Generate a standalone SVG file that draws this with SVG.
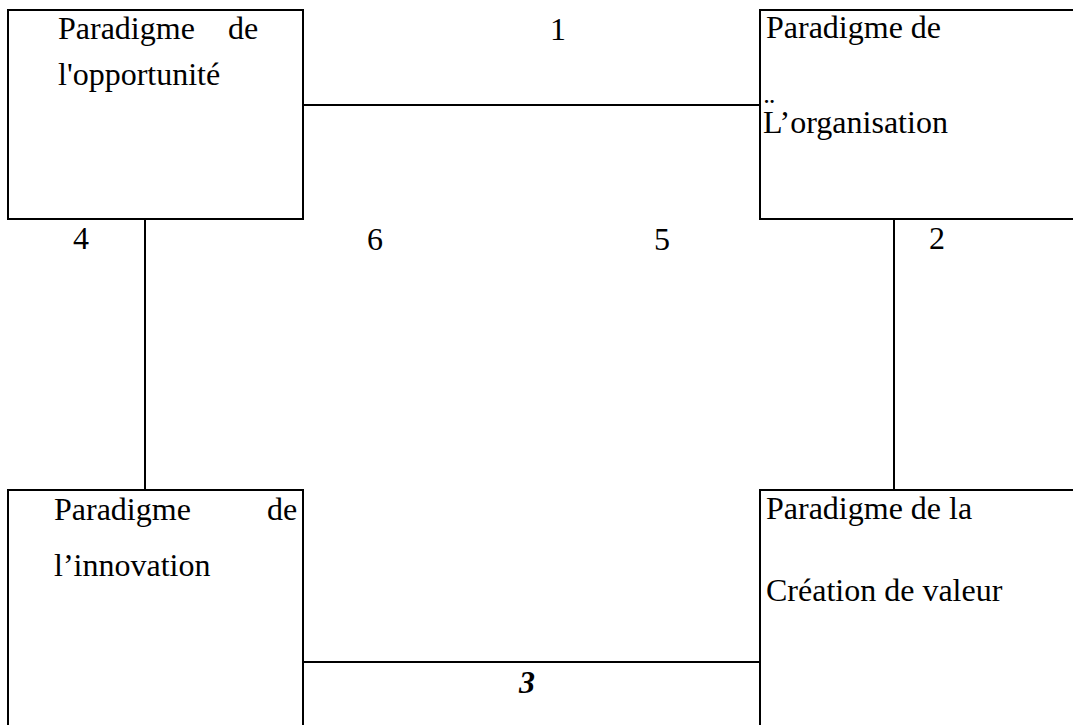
<svg xmlns="http://www.w3.org/2000/svg" width="1073" height="725" viewBox="0 0 1073 725">
<style>
.box{fill:#fff;stroke:#000;stroke-width:2}
.ln{stroke:#000;stroke-width:2;fill:none}
text{font-family:"Liberation Serif","Times New Roman",serif;font-size:32px;fill:#000}
.num{text-anchor:middle}
.bi{font-weight:bold;font-style:italic}
</style>
<rect width="1073" height="725" fill="#fff"/>
<g id="connectors">
<line class="ln" x1="303" y1="105" x2="760" y2="105"/>
<line class="ln" x1="145" y1="219" x2="145" y2="490"/>
<line class="ln" x1="894" y1="219" x2="894" y2="490"/>
<line class="ln" x1="303" y1="662" x2="760" y2="662"/>
<text class="num" x="558" y="40">1</text>
<text class="num" x="937" y="249">2</text>
<text class="num bi" x="527" y="693">3</text>
<text class="num" x="81" y="249">4</text>
<text class="num" x="662" y="250">5</text>
<text class="num" x="375" y="250">6</text>
</g>
<g id="opportunite">
<rect class="box" x="8" y="10" width="295" height="209"/>
<text x="58" y="39">Paradigme</text>
<text x="228" y="39">de</text>
<text x="58" y="85">l'opportunité</text>
</g>
<g id="organisation">
<rect class="box" x="760" y="10" width="330" height="209"/>
<text x="766" y="38">Paradigme de</text>
<text x="764" y="120">¨</text>
<text x="763" y="133">L’organisation</text>
</g>
<g id="innovation">
<rect class="box" x="8" y="490" width="295" height="250"/>
<text x="54" y="520">Paradigme</text>
<text x="267" y="520">de</text>
<text x="54" y="576">l’innovation</text>
</g>
<g id="creation">
<rect class="box" x="760" y="490" width="330" height="250"/>
<text x="766" y="519">Paradigme de la</text>
<text x="766" y="601">Création de valeur</text>
</g>
</svg>
